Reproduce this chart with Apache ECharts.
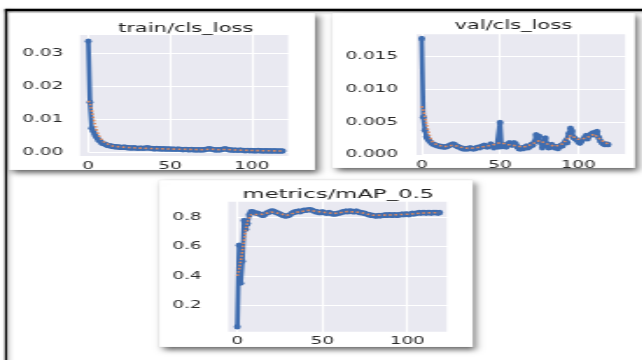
<!DOCTYPE html>
<html>
<head>
<meta charset="utf-8">
<script src="https://cdn.jsdelivr.net/npm/echarts@6/dist/echarts.min.js"></script>
<style>
html, body { margin: 0; padding: 0; background: #fff; overflow: hidden; }
#wrap { width: 643px; height: 360px; overflow: hidden; }
/* the source picture is stretched sideways, so draw narrow and stretch the same way */
#chart { width: 367.43px; height: 360px; transform: scaleX(1.75); transform-origin: 0 0; }
</style>
</head>
<body>
<div id="wrap"><div id="chart"></div></div>
<script>
const S = 1.75;
const W = 643 / S;

const xTicks = ['0', '50', '100'];
const trainTicks = ['0.00', '0.01', '0.02', '0.03'];
const valTicks = ['0.000', '0.005', '0.010', '0.015'];
const mapTicks = ['0.2', '0.4', '0.6', '0.8'];

// train/cls_loss, one value per epoch
const trainLoss = [
  0.0336, 0.0151, 0.0072, 0.0063, 0.0053, 0.0045, 0.0038, 0.0033, 0.0029, 0.0026,
  0.0024, 0.0022, 0.0020, 0.0019, 0.0018, 0.0017, 0.0016, 0.0016, 0.0015, 0.0015,
  0.0014, 0.0014, 0.0015, 0.0014, 0.0013, 0.0013, 0.0012, 0.0012, 0.0013, 0.0012,
  0.0011, 0.0011, 0.0012, 0.0011, 0.0011, 0.0012, 0.0013, 0.0012, 0.0011, 0.0011,
  0.0010, 0.0010, 0.0011, 0.0010, 0.0010, 0.0009, 0.0010, 0.0009, 0.0009, 0.0009,
  0.0009, 0.0008, 0.0009, 0.0008, 0.0008, 0.0009, 0.0008, 0.0008, 0.0007, 0.0008,
  0.0008, 0.0007, 0.0007, 0.0008, 0.0007, 0.0007, 0.0006, 0.0007, 0.0007, 0.0006,
  0.0007, 0.0007, 0.0008, 0.0009, 0.0010, 0.0009, 0.0008, 0.0007, 0.0006, 0.0007,
  0.0006, 0.0007, 0.0008, 0.0009, 0.0010, 0.0008, 0.0007, 0.0006, 0.0006, 0.0005,
  0.0006, 0.0005, 0.0005, 0.0006, 0.0005, 0.0005, 0.0004, 0.0005, 0.0005, 0.0004,
  0.0005, 0.0004, 0.0004, 0.0004, 0.0005, 0.0004, 0.0004, 0.0003, 0.0004, 0.0004,
  0.0003, 0.0004, 0.0003, 0.0003, 0.0004, 0.0003, 0.0003, 0.0003, 0.0003, 0.0003
];
const trainSmooth = [
  [0, 0.0155], [1, 0.0148], [2, 0.0128], [3, 0.0105], [4, 0.0085], [5, 0.0068],
  [6, 0.0055], [7, 0.0045], [8, 0.0038], [9, 0.0032], [10, 0.0028], [12, 0.0022],
  [15, 0.0018], [20, 0.0015], [30, 0.0012], [40, 0.00105], [50, 0.0009], [60, 0.0008],
  [70, 0.0007], [75, 0.00085], [80, 0.0007], [85, 0.0008], [90, 0.0006], [100, 0.00045],
  [110, 0.00037], [119, 0.0003]
];

// val/cls_loss
const valLoss = [
  0.0178, 0.0057, 0.0037, 0.0027, 0.0023, 0.0020, 0.0018, 0.0016, 0.0015, 0.0014,
  0.0013, 0.0013, 0.0012, 0.0012, 0.0011, 0.0011, 0.0012, 0.0013, 0.0014, 0.0015,
  0.0016, 0.0015, 0.0013, 0.0012, 0.0011, 0.0010, 0.0009, 0.0008, 0.0009, 0.0008,
  0.0009, 0.0010, 0.0009, 0.0008, 0.0009, 0.0010, 0.0011, 0.0010, 0.0012, 0.0013,
  0.0014, 0.0012, 0.0011, 0.0013, 0.0016, 0.0013, 0.0010, 0.0012, 0.0014, 0.0011,
  0.0049, 0.0012, 0.0015, 0.0013, 0.0011, 0.0016, 0.0018, 0.0015, 0.0014, 0.0018,
  0.0016, 0.0012, 0.0009, 0.0008, 0.0010, 0.0009, 0.0011, 0.0013, 0.0010, 0.0012,
  0.0015, 0.0014, 0.0019, 0.0030, 0.0022, 0.0028, 0.0018, 0.0010, 0.0013, 0.0025,
  0.0016, 0.0010, 0.0012, 0.0015, 0.0011, 0.0010, 0.0012, 0.0009, 0.0011, 0.0014,
  0.0013, 0.0017, 0.0021, 0.0018, 0.0032, 0.0040, 0.0036, 0.0026, 0.0024, 0.0022,
  0.0019, 0.0017, 0.0020, 0.0023, 0.0026, 0.0029, 0.0024, 0.0028, 0.0031, 0.0033,
  0.0030, 0.0034, 0.0035, 0.0026, 0.0021, 0.0018, 0.0016, 0.0015, 0.0016, 0.0015
];
const valSmooth = [
  [0, 0.0074], [1, 0.0068], [2, 0.0058], [3, 0.0047], [4, 0.0037], [5, 0.0029],
  [6, 0.0023], [7, 0.0019], [8, 0.0016], [10, 0.0014], [15, 0.0012], [20, 0.0014],
  [25, 0.0011], [30, 0.0009], [35, 0.001], [40, 0.0012], [45, 0.0014], [50, 0.0018],
  [55, 0.0015], [60, 0.0013], [65, 0.0011], [70, 0.0015], [75, 0.0021], [80, 0.0016],
  [85, 0.0012], [90, 0.0016], [95, 0.0029], [100, 0.0023], [105, 0.0025], [110, 0.0031],
  [115, 0.0021], [119, 0.0016]
];

// metrics/mAP_0.5
const mapValues = [
  0.05, 0.61, 0.35, 0.50, 0.78, 0.72, 0.76, 0.82, 0.84, 0.84,
  0.835, 0.83, 0.83, 0.825, 0.82, 0.815, 0.82, 0.83, 0.835, 0.84,
  0.845, 0.845, 0.84, 0.835, 0.83, 0.825, 0.82, 0.815, 0.81, 0.81,
  0.815, 0.82, 0.83, 0.835, 0.84, 0.84, 0.845, 0.84, 0.845, 0.85,
  0.85, 0.85, 0.855, 0.855, 0.85, 0.845, 0.84, 0.84, 0.835, 0.835,
  0.84, 0.835, 0.83, 0.83, 0.835, 0.83, 0.825, 0.825, 0.825, 0.83,
  0.83, 0.835, 0.84, 0.84, 0.845, 0.84, 0.845, 0.845, 0.84, 0.84,
  0.845, 0.84, 0.835, 0.835, 0.83, 0.83, 0.825, 0.82, 0.82, 0.815,
  0.815, 0.81, 0.81, 0.815, 0.81, 0.815, 0.815, 0.82, 0.815, 0.82,
  0.82, 0.815, 0.82, 0.82, 0.815, 0.82, 0.82, 0.825, 0.82, 0.825,
  0.825, 0.82, 0.825, 0.83, 0.825, 0.83, 0.83, 0.835, 0.83, 0.835,
  0.835, 0.83, 0.835, 0.835, 0.83, 0.835, 0.835, 0.835, 0.83, 0.835
];
const mapSmooth = [
  [0, 0.40], [1, 0.44], [2, 0.50], [3, 0.57], [4, 0.65], [5, 0.72], [6, 0.77],
  [7, 0.80], [8, 0.82], [9, 0.83], [10, 0.833], [15, 0.823], [20, 0.838], [25, 0.828],
  [29, 0.815], [35, 0.837], [42, 0.85], [50, 0.837], [57, 0.828], [65, 0.842],
  [72, 0.836], [80, 0.816], [90, 0.818], [100, 0.823], [110, 0.832], [119, 0.834]
];

const BLUE = '#3f6db0';
const ORANGE = '#e08a5c';
const BG = '#e9e9f1';
const TXT = '#2b2b2b';
const FONT = 'DejaVu Sans';

const pairs = arr => arr.map((v, i) => [i, v]);
const pick = (ticks, d) => v => {
  const s = v.toFixed(d);
  return ticks.includes(s) ? s : '';
};

// panels in picture pixels: white box, plot background, axis frame
const panels = [
  { box: [9, 13, 306, 157], bg: [80, 35, 208, 121], title: 'train/cls_loss', tx: 185.7, ty: 28.7, tSize: 12,
    x0: 88.3, xPx: 1.634, y0: 152, yTop: 34, xMax: 122.8, yMax: 0.03576, yInt: 0.01,
    yTicks: trainTicks, yDec: 2, xMargin: 8.4, yMargin: 14.3, yMin: 0 },
  { box: [332, 13, 303, 155], bg: [416.7, 34.3, 208.3, 120.7], title: 'val/cls_loss', tx: 513.3, ty: 25.8, tSize: 12,
    x0: 421.7, xPx: 1.566, y0: 154.3, yTop: 33.3, xMax: 130.5, yMax: 0.0186, yInt: 0.005,
    yTicks: valTicks, yDec: 3, xMargin: 5.4, yMargin: 13.5, yMin: 0 },
  { box: [159, 180, 314, 167], bg: [228.3, 201.7, 218.4, 130], title: 'metrics/mAP_0.5', tx: 338.3, ty: 194.2, tSize: 13,
    x0: 237.3, xPx: 1.70, y0: 334.1, yTop: 200.7, xMax: 123.8, yMax: 0.916, yInt: 0.2,
    yTicks: mapTicks, yDec: 1, xMargin: 2, yMargin: 20.3, yMin: 0 }
];

const series = [
  [trainLoss, trainSmooth],
  [valLoss, valSmooth],
  [mapValues, mapSmooth]
];

const graphics = [];
graphics.push({
  type: 'line', silent: true, z: -3,
  shape: { x1: 5 / S, y1: 10, x2: W + 5, y2: 10 },
  style: { stroke: '#000', lineWidth: 2.4, shadowBlur: 3, shadowColor: 'rgba(0,0,0,0.35)', shadowOffsetY: 1 }
});
graphics.push({
  type: 'line', silent: true, z: -3,
  shape: { x1: 6 / S, y1: 9, x2: 6 / S, y2: 365 },
  style: { stroke: '#000', lineWidth: 1.3, shadowBlur: 3, shadowColor: 'rgba(0,0,0,0.4)', shadowOffsetX: 1 }
});

const grids = [], xAxes = [], yAxes = [], seriesList = [];
panels.forEach((p, k) => {
  graphics.push({
    type: 'rect', silent: true, z: -2,
    shape: { x: p.box[0] / S, y: p.box[1], width: p.box[2] / S, height: p.box[3] },
    style: { fill: '#fff', stroke: 'rgba(0,0,0,0.08)', lineWidth: 0.5,
      shadowBlur: 5, shadowOffsetX: 2, shadowOffsetY: 3, shadowColor: 'rgba(0,0,0,0.6)' }
  });
  graphics.push({
    type: 'rect', silent: true, z: -1,
    shape: { x: p.bg[0] / S, y: p.bg[1], width: p.bg[2] / S, height: p.bg[3] },
    style: { fill: BG }
  });
  graphics.push({
    type: 'text', silent: true, z: 5,
    x: p.tx / S, y: p.ty,
    style: { text: p.title, fontSize: p.tSize, fontFamily: FONT, fill: '#222', align: 'center', verticalAlign: 'middle' }
  });

  const right = p.x0 + p.xMax * p.xPx;
  grids.push({
    left: p.x0 / S, top: p.yTop, width: (right - p.x0) / S, height: p.y0 - p.yTop,
    outerBoundsMode: 'none'
  });
  xAxes.push({
    gridIndex: k, type: 'value', min: 0, max: p.xMax, interval: 50,
    axisLine: { show: false }, axisTick: { show: false },
    splitLine: { show: true, showMaxLine: false, lineStyle: { color: '#fff', width: 1.2 } },
    axisLabel: { margin: p.xMargin, fontSize: 10.5, fontFamily: FONT, color: TXT,
      showMaxLabel: false, formatter: pick(xTicks, 0) }
  });
  yAxes.push({
    gridIndex: k, type: 'value', min: p.yMin, max: p.yMax, interval: p.yInt,
    axisLine: { show: false }, axisTick: { show: false },
    splitLine: { show: true, showMaxLine: false, showMinLine: k !== 2, lineStyle: { color: '#fff', width: 1.2 } },
    axisLabel: { margin: p.yMargin, fontSize: 10.5, fontFamily: FONT, color: TXT,
      showMaxLabel: false, formatter: pick(p.yTicks, p.yDec) }
  });
  seriesList.push({
    type: 'line', xAxisIndex: k, yAxisIndex: k, data: pairs(series[k][0]),
    symbol: 'circle', symbolSize: [3.9, 5.4], showSymbol: true,
    lineStyle: { width: 2.7, color: BLUE }, itemStyle: { color: BLUE },
    z: 2, silent: true, animation: false
  });
  seriesList.push({
    type: 'line', xAxisIndex: k, yAxisIndex: k, data: series[k][1],
    symbol: 'none', showSymbol: false,
    lineStyle: { width: 1.6, type: 'dotted', color: ORANGE },
    z: 3, silent: true, animation: false
  });
});

const chart = echarts.init(document.getElementById('chart'));
chart.setOption({
  animation: false,
  backgroundColor: '#fff',
  graphic: { elements: graphics },
  grid: grids,
  xAxis: xAxes,
  yAxis: yAxes,
  series: seriesList
});
</script>
</body>
</html>
